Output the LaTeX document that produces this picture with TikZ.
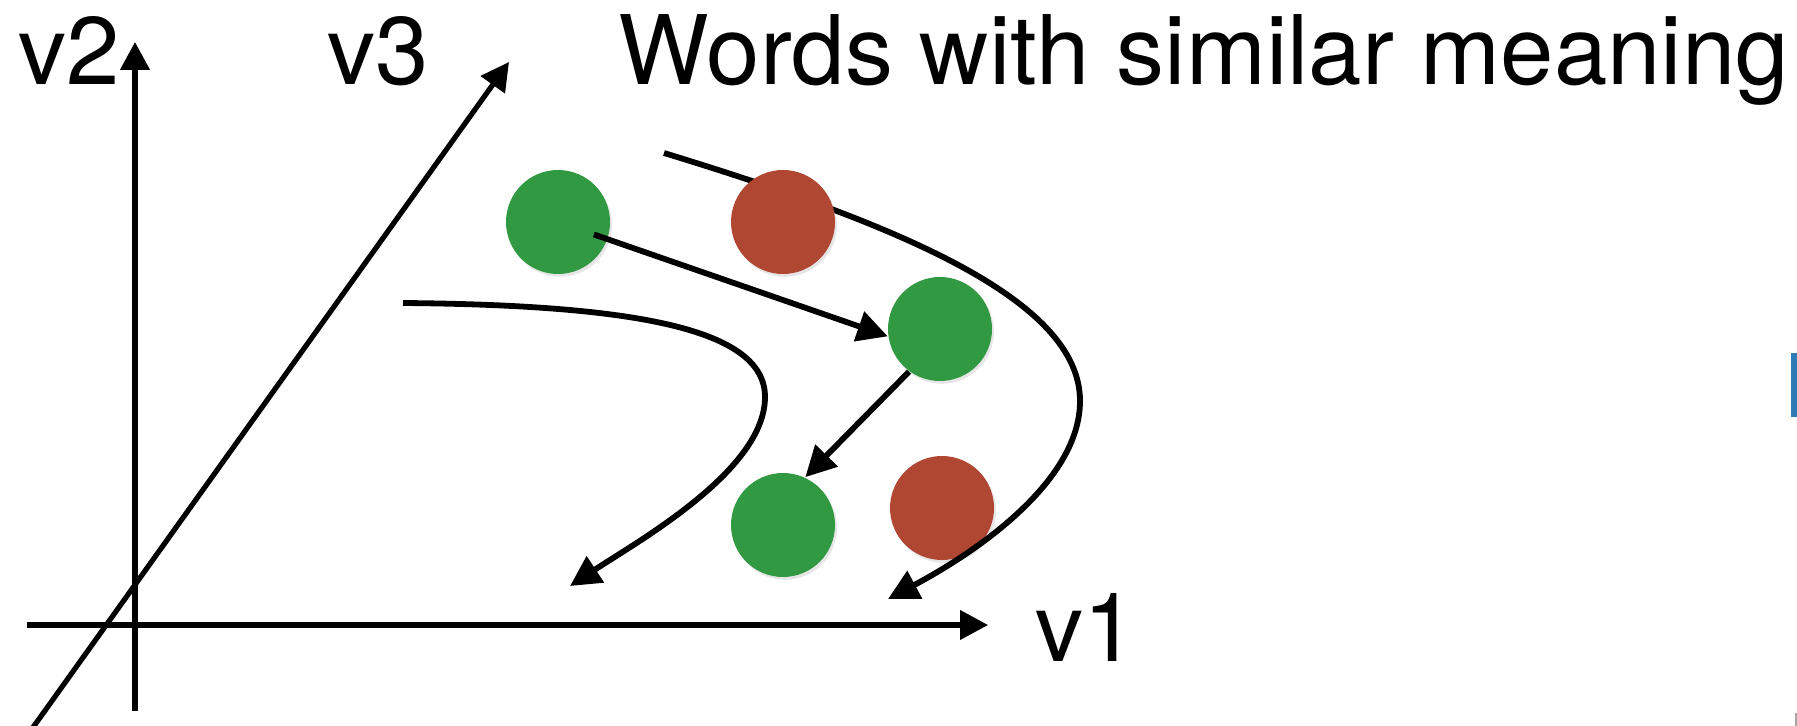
\documentclass[tikz,border=0pt]{standalone}
\usepackage{fontspec}
\setmainfont{TeX Gyre Heros}
\usetikzlibrary{arrows.meta, shadows}
\definecolor{wordgreen}{RGB}{48,153,65}
\definecolor{wordred}{RGB}{176,71,51}
\definecolor{edgeblue}{RGB}{46,123,181}

\begin{document}
\begin{tikzpicture}[x=0.25pt, y=-0.25pt,
        axisline/.style={line width=1.3pt, -{Triangle[length=7pt, width=7.2pt]}},
        flowline/.style={line width=1.45pt, -{Triangle[length=7.6pt, width=7.6pt]}},
        wordnode/.style={circle, minimum size=26pt, inner sep=0pt,
            drop shadow={shadow xshift=0.5pt, shadow yshift=-0.7pt, opacity=0.2}},
        greenword/.style={wordnode, fill=wordgreen},
        redword/.style={wordnode, fill=wordred},
        labelnode/.style={font=\fontsize{24pt}{28pt}\selectfont, inner sep=0pt, anchor=base west}
    ]
    \useasboundingbox (0,0) rectangle (1797,726);
    \coordinate (v3bot) at (29,733);
    \coordinate (v3top) at (509,62);
    \coordinate (v2bot) at (135,711);
    \coordinate (v2top) at (135,42);
    \coordinate (v1left) at (27,625);
    \coordinate (v1right) at (988,625);
    \draw[axisline] (v3bot) -- (v3top);
    \draw[axisline] (v2bot) -- (v2top);
    \draw[axisline] (v1left) -- (v1right);
    \node[labelnode] (v2lbl) at (18,85) {v2};
    \node[labelnode] (v3lbl) at (327,85) {v3};
    \node[labelnode] (v1lbl) at (1035,661) {v1};
    \node[labelnode] (title) at (618,85) {Words with similar meaning};
    \coordinate (innerstart) at (403,303);
    \coordinate (innerturn) at (765,397);
    \coordinate (innerend) at (570,586);
    \draw[flowline] (innerstart) .. controls (640,305) and (765,330) .. (innerturn)
        .. controls (765,470) and (640,540) .. (innerend);
    \node[redword] (r2) at (942,508) {};
    \coordinate (outerstart) at (664,153);
    \coordinate (outerturn) at (1080,401);
    \coordinate (outerend) at (888,599);
    \draw[flowline] (outerstart) .. controls (900,225) and (1080,300) .. (outerturn)
        .. controls (1080,480) and (980,550) .. (outerend);
    \node[greenword] (g1) at (558,222) {};
    \node[redword] (r1) at (783,222) {};
    \node[greenword] (g2) at (940,329) {};
    \node[greenword] (g3) at (783,525) {};
    \draw[flowline, shorten <=9.5pt] (g1.center) -- (g2.188);
    \draw[flowline] (g2.234) -- (g3.65);
    \fill[edgeblue] (1791,353) rectangle (1797,417);
    \fill[gray!70] (1795,713) rectangle (1797,726);
\end{tikzpicture}
\end{document}
